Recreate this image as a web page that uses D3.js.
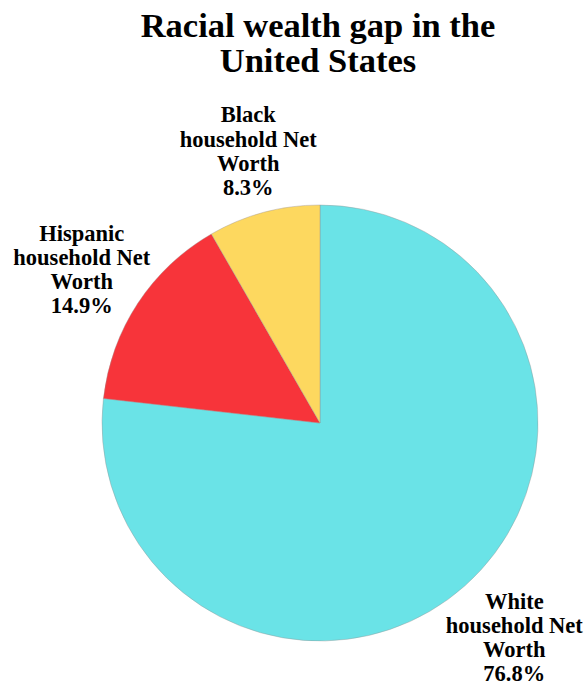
<html>
<head>
    <title>Racial wealth gap</title>
    <script src="https://cdn.jsdelivr.net/npm/d3@7"></script>
    <style>
        body { margin: 0; background: #fff; }
        svg text { font-family: "Liberation Serif", Tinos, "Times New Roman", serif; font-weight: bold; }
    </style>
</head>
<body>
    <div id="chart"></div>
    <script>
        // data
        const groups = ["White", "Hispanic", "Black"];
        const shares = [76.8, 14.9, 8.3];
        const colors = ["#6ae3e7", "#f7343a", "#fdd85f"];
        const titleLines = ["Racial wealth gap in the", "United States"];

        const width = 587, height = 687;
        const cx = 320, cy = 423, radius = 218;

        const svg = d3.select("#chart").append("svg")
            .attr("width", width)
            .attr("height", height);

        svg.append("text")
            .attr("text-anchor", "middle")
            .attr("font-size", 34.5)
            .selectAll("tspan")
            .data(titleLines)
            .join("tspan")
            .attr("x", 318)
            .attr("y", (d, i) => 37 + i * 35)
            .text(d => d);

        const pie = d3.pie().sort(null).value(d => d)(shares);
        const arc = d3.arc().innerRadius(0).outerRadius(radius);
        // unit circle centroid, stretched a little wider than tall for the labels
        const unitArc = d3.arc().innerRadius(1).outerRadius(1);
        const labelRx = 288, labelRy = 284;

        const g = svg.append("g").attr("transform", `translate(${cx},${cy})`);

        g.selectAll("path")
            .data(pie)
            .join("path")
            .attr("d", arc)
            .attr("fill", (d, i) => colors[i])
            .attr("stroke", "#9a8f8f")
            .attr("stroke-width", 0.4);

        const lineH = 24.2;
        g.selectAll("text.lbl")
            .data(pie)
            .join("text")
            .attr("class", "lbl")
            .attr("text-anchor", "middle")
            .attr("font-size", 22.5)
            .each(function(d, i) {
                const [ux, uy] = unitArc.centroid(d);
                const x = ux * labelRx + 2.5, y = uy * labelRy;
                const lines = [groups[i], "household Net", "Worth", shares[i].toFixed(1) + "%"];
                d3.select(this).selectAll("tspan")
                    .data(lines)
                    .join("tspan")
                    .attr("x", x)
                    .attr("y", (t, j) => y + (j - 1.5) * lineH + 10)
                    .text(t => t);
            });
    </script>
</body>
</html>
